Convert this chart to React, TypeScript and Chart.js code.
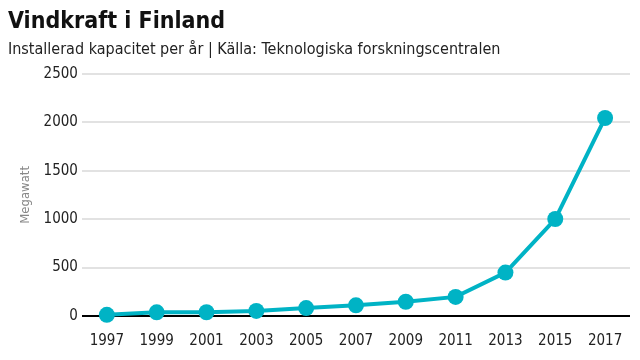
import React, { useEffect, useRef } from "react";
import { Chart, registerables } from "chart.js";

Chart.register(...registerables);

const years = ["1997", "1999", "2001", "2003", "2005", "2007", "2009", "2011", "2013", "2015", "2017"];
const capacityMW = [12, 38, 39, 52, 82, 110, 147, 197, 448, 1001, 2044];
const yTicks = [0, 500, 1000, 1500, 2000, 2500];

const FONT = "'Liberation Sans Narrow', 'DejaVu Sans Condensed', 'Roboto', sans-serif";
const LINE_COLOR = "#00b3c5";

export default function App() {
  const ref = useRef<HTMLCanvasElement | null>(null);
  useEffect(() => {
    document.body.style.margin = "0";
    if (!ref.current) return;
    const chart = new Chart(ref.current, {
      type: "line",
      data: {
        labels: years,
        datasets: [
          {
            data: capacityMW,
            borderColor: LINE_COLOR,
            backgroundColor: LINE_COLOR,
            borderWidth: 4,
            pointRadius: 8,
            pointHoverRadius: 8,
            pointBorderWidth: 0,
            tension: 0,
            clip: false as any,
          },
        ],
      },
      options: {
        animation: false,
        responsive: false,
        maintainAspectRatio: false,
        layout: { padding: { left: 8, right: 10, top: 4, bottom: -6 } },
        plugins: {
          legend: { display: false },
          tooltip: { enabled: false },
          title: {
            display: true,
            text: "Vindkraft i Finland",
            align: "start",
            color: "#111",
            font: { family: FONT, size: 23, weight: "bold" },
            padding: { top: 4, bottom: 3 },
          },
          subtitle: {
            display: true,
            text: "Installerad kapacitet per år | Källa: Teknologiska forskningscentralen",
            align: "start",
            color: "#222",
            font: { family: FONT, size: 16 },
            padding: { top: 2, bottom: 14 },
          },
        },
        scales: {
          x: {
            offset: true,
            grid: { display: false, drawTicks: false },
            border: { display: false },
            ticks: { color: "#222", font: { family: FONT, size: 15 }, padding: 16, maxRotation: 0, autoSkip: false },
          },
          y: {
            min: 0,
            max: 2500,
            afterBuildTicks: (axis: any) => {
              axis.ticks = yTicks.map((v) => ({ value: v }));
            },
            grid: {
              drawTicks: false,
              color: (ctx: any) => (ctx.tick && ctx.tick.value === 0 ? "#000" : "#e2e2e2"),
              lineWidth: 2,
            },
            border: { display: false },
            ticks: {
              color: "#222",
              font: { family: FONT, size: 15 },
              padding: 4,
              callback: (v: any) => String(v),
            },
            title: {
              display: true,
              text: "Megawatt",
              color: "#888",
              font: { family: FONT, size: 13 },
              padding: { top: 10, bottom: 6 },
            },
          },
        },
      },
    });
    return () => chart.destroy();
  }, []);
  return (
    <div style={{ width: 640, height: 360 }}>
      <canvas ref={ref} width={640} height={360} style={{ display: "block" }} />
    </div>
  );
}
